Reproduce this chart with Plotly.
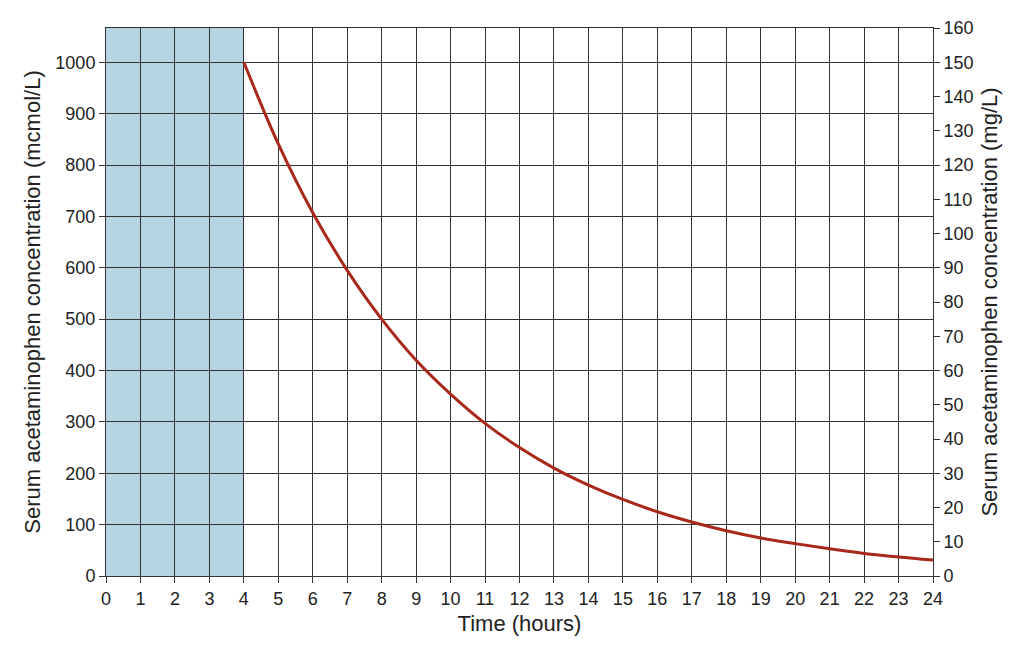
import plotly.graph_objects as go

hours = list(range(4, 25))
conc_mcmol = [1000, 841, 707, 595, 500, 420, 354, 297, 250, 210, 177, 149, 125, 105, 88, 74, 63, 53, 44, 37, 31]
x_ticks = list(range(0, 25))
left_ticks = list(range(0, 1001, 100))
right_ticks = list(range(0, 161, 10))
shade_start, shade_end = 0, 4

fig = go.Figure()
fig.add_shape(type="rect", xref="x", yref="y", x0=shade_start, x1=shade_end, y0=0, y1=1066.67,
              fillcolor="#b5d5e2", line_width=0, layer="below")
fig.add_trace(go.Scatter(x=hours, y=conc_mcmol, mode="lines", line=dict(color="#a8281a", width=3, shape="spline"),
                         showlegend=False))
fig.add_trace(go.Scatter(x=[None], y=[None], yaxis="y2", showlegend=False))

font = dict(family="Liberation Sans, Arial, sans-serif", size=18, color="#222")
fig.update_layout(
    width=1024, height=657, margin=dict(l=98, r=99, t=20, b=89),
    plot_bgcolor="white", paper_bgcolor="white", font=font,
    xaxis=dict(range=[0, 24], tickvals=x_ticks, showgrid=True, gridcolor="#333", gridwidth=1, automargin=False,
               showline=True, linecolor="#333", mirror=True, ticks="outside", ticklen=6, tickcolor="#333",
               title=dict(text="Time (hours)", standoff=8), zeroline=False),
    yaxis=dict(range=[0, 1066.67], tickvals=left_ticks, showgrid=True, gridcolor="#333", gridwidth=1, automargin=False,
               showline=True, linecolor="#333", ticks="outside", ticklen=6, tickcolor="#333",
               title=dict(text="Serum acetaminophen concentration (mcmol/L)", standoff=8), zeroline=False),
    yaxis2=dict(range=[0, 160], tickvals=right_ticks, overlaying="y", side="right", showgrid=False, automargin=False,
                showline=True, linecolor="#333", ticks="outside", ticklen=6, tickcolor="#333",
                title=dict(text="Serum acetaminophen concentration (mg/L)", standoff=8), zeroline=False),
)
fig.write_html("out.html")
